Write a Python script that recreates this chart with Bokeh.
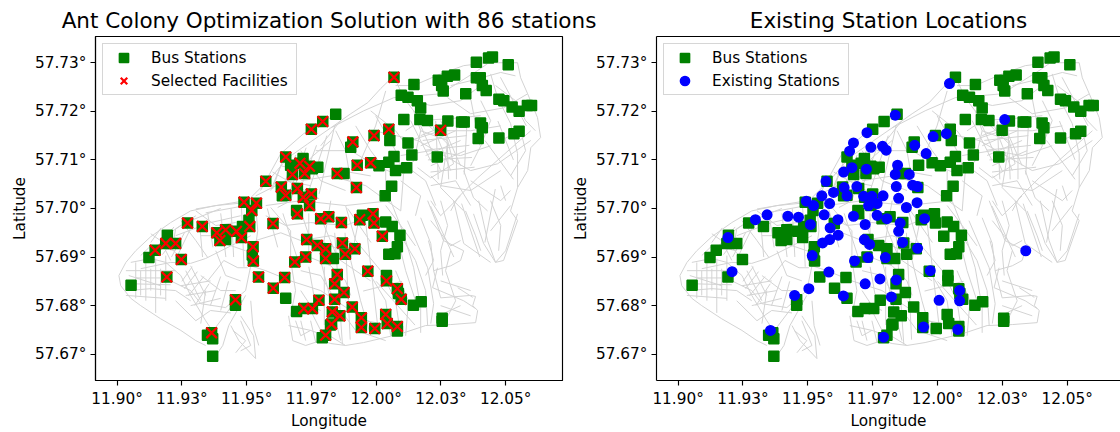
from bokeh.plotting import figure
from bokeh.embed import file_html
from bokeh.resources import INLINE
from bokeh.layouts import row
from bokeh.models import FixedTicker, Legend, LegendItem, LinearAxis

title_left = "Ant Colony Optimization Solution with 86 stations"
title_right = "Existing Station Locations"
x_ticks = [11.9, 11.925, 11.95, 11.975, 12.0, 12.025, 12.05]
x_labels = ["11.90°", "11.93°", "11.95°", "11.97°", "12.00°", "12.03°", "12.05°"]
y_ticks = [57.67, 57.68, 57.69, 57.70, 57.71, 57.72, 57.73]
y_labels = ["57.67°", "57.68°", "57.69°", "57.70°", "57.71°", "57.72°", "57.73°"]

bus_west = [(11.9272,57.6970),(11.9329,57.6963),(11.9385,57.6950),(11.9419,57.6956),(11.9397,57.6934),(11.9419,57.6936),
    (11.9461,57.6953),(11.9480,57.6940),(11.9484,57.6963),(11.9512,57.6963),(11.9509,57.6976),(11.9520,57.6996),
    (11.9602,57.6969),(11.9525,57.6921),(11.9526,57.6892),(11.9522,57.6904),(11.9194,57.6945),(11.9188,57.6928),
    (11.9226,57.6928),(11.9147,57.6914),(11.9123,57.6899),(11.9248,57.6895),(11.9192,57.6859),(11.9054,57.6842),
    (11.9546,57.6859),(11.9647,57.6858),(11.9603,57.6836),(11.9651,57.6815),(11.9457,57.6812),(11.9457,57.6801),
    (11.9365,57.6744),(11.9369,57.6732),(11.9349,57.6739),(11.9369,57.6696)]
bus_north = [(11.9750,57.7163),(11.9794,57.7179),(11.9651,57.7106),(11.9718,57.7103),(11.9706,57.7093),(11.9670,57.7089),
    (11.9743,57.7087),(11.9775,57.7085),(11.9677,57.7070),(11.9724,57.7072),(11.9754,57.7082),(11.9574,57.7056),
    (11.9634,57.7044),(11.9696,57.7041),(11.9651,57.7027),(11.9638,57.7026),(11.9719,57.7023),(11.9750,57.7030),
    (11.9490,57.7013),(11.9538,57.7011),(11.9743,57.7006),(11.9693,57.6996),(11.9844,57.7194),(11.9910,57.7137),
    (11.9902,57.7126),(11.9992,57.7150),(11.9979,57.7094),(11.9927,57.7089),(11.9850,57.7072),(11.9876,57.7072),
    (11.9924,57.7043)]
bus_east = [(12.0069,57.7270),(12.0146,57.7255),(12.0240,57.7264),(12.0275,57.7272),(12.0303,57.7275),(12.0387,57.7301),
    (12.0434,57.7310),(12.0449,57.7312),(12.0510,57.7296),(12.0387,57.7269),(12.0402,57.7269),(12.0259,57.7242),
    (12.0253,57.7253),(12.0346,57.7236),(12.0410,57.7253),(12.0425,57.7243),(12.0097,57.7233),(12.0123,57.7229),
    (12.0159,57.7222),(12.0172,57.7207),(12.0474,57.7225),(12.0493,57.7222),(12.0525,57.7209),(12.0552,57.7200),
    (12.0584,57.7212),(12.0600,57.7212),(12.0107,57.7183),(12.0169,57.7183),(12.0198,57.7181),(12.0277,57.7180),
    (12.0330,57.7178),(12.0340,57.7178),(12.0403,57.7176),(12.0410,57.7166),(12.0552,57.7159),(12.0532,57.7154),
    (12.0249,57.7161),(12.0049,57.7163),(12.0053,57.7140),(12.0123,57.7135),(12.0394,57.7144),(12.0474,57.7145),
    (12.0138,57.7110),(12.0236,57.7106),(12.0069,57.7107),(12.0049,57.7095),(12.0011,57.7088),(12.0118,57.7084),
    (12.0075,57.7078),(12.0060,57.7046),(12.0035,57.7026)]
bus_center = [(11.9696,57.6989),(11.9786,57.6979),(11.9817,57.6983),(11.9732,57.6936),(11.9773,57.6924),(11.9805,57.6917),
    (11.9805,57.6897),(11.9728,57.6900),(11.9686,57.6890),(11.9779,57.6811),(11.9754,57.6794),(11.9721,57.6794),
    (11.9693,57.6788),(11.9805,57.6739),(11.9792,57.6734),(11.9824,57.6760),(11.9866,57.6971),(11.9937,57.6977),
    (11.9947,57.6986),(11.9988,57.6989),(11.9992,57.6970),(12.0037,57.6972),(12.0062,57.6963),(12.0024,57.6943),
    (12.0092,57.6945),(12.0082,57.6921),(12.0049,57.6906),(12.0073,57.6907),(11.9870,57.6929),(11.9918,57.6917),
    (11.9881,57.6906),(11.9835,57.6897),(11.9968,57.6871),(12.0040,57.6851),(12.0040,57.6862),(12.0082,57.6835),
    (12.0097,57.6813),(12.0086,57.6825),(12.0144,57.6801),(12.0174,57.6808),(12.0255,57.6768),(12.0255,57.6774),
    (11.9850,57.6864),(11.9840,57.6845),(11.9876,57.6827),(11.9840,57.6813),(11.9908,57.6797),(11.9943,57.6775),
    (11.9943,57.6755),(11.9995,57.6753),(12.0037,57.6782),(12.0043,57.6763),(12.0082,57.6757),(12.0082,57.6748),
    (11.9860,57.6779),(11.9831,57.6787),(11.9828,57.6762)]

selected_west = [(11.9750,57.7163),(11.9794,57.7179),(11.9651,57.7106),(11.9706,57.7093),(11.9743,57.7087),(11.9677,57.7070),
    (11.9724,57.7072),(11.9574,57.7056),(11.9634,57.7044),(11.9696,57.7041),(11.9651,57.7027),(11.9719,57.7023),
    (11.9750,57.7030),(11.9490,57.7013),(11.9538,57.7011),(11.9743,57.7006),(11.9272,57.6970),(11.9329,57.6963),
    (11.9385,57.6950),(11.9419,57.6956),(11.9397,57.6934),(11.9461,57.6953),(11.9480,57.6940),(11.9512,57.6963),
    (11.9520,57.6996),(11.9602,57.6969),(11.9696,57.6989),(11.9525,57.6921),(11.9526,57.6892),(11.9188,57.6928),
    (11.9226,57.6928),(11.9147,57.6914),(11.9248,57.6895),(11.9192,57.6859),(11.9546,57.6859),(11.9647,57.6858),
    (11.9603,57.6836),(11.9457,57.6812),(11.9365,57.6744)]
selected_east = [(12.0069,57.7270),(12.0249,57.7161),(12.0049,57.7163),(11.9992,57.7150),(11.9910,57.7137),(11.9979,57.7094),
    (11.9927,57.7089),(11.9850,57.7072),(11.9924,57.7043),(11.9786,57.6979),(11.9817,57.6983),(11.9732,57.6936),
    (11.9773,57.6924),(11.9805,57.6917),(11.9805,57.6897),(11.9728,57.6900),(11.9686,57.6890),(11.9779,57.6811),
    (11.9754,57.6794),(11.9721,57.6794),(11.9805,57.6739),(11.9866,57.6971),(11.9937,57.6977),(11.9988,57.6989),
    (11.9992,57.6970),(12.0024,57.6943),(11.9870,57.6929),(11.9918,57.6917),(11.9881,57.6906),(11.9968,57.6871),
    (12.0040,57.6851),(12.0082,57.6835),(12.0097,57.6813),(11.9850,57.6864),(11.9840,57.6845),(11.9876,57.6827),
    (11.9840,57.6813),(11.9908,57.6797),(11.9943,57.6775),(11.9943,57.6755),(11.9995,57.6753),(12.0037,57.6782),
    (12.0043,57.6763),(12.0082,57.6757),(11.9860,57.6779),(11.9831,57.6787),(11.9828,57.6762)]

existing_north = [(11.9728,57.7156),(11.9676,57.7135),(11.9661,57.7118),(11.9743,57.7126),(11.9788,57.7128),(11.9802,57.7120),
    (11.9670,57.7084),(11.9638,57.7075),(11.9726,57.7081),(11.9570,57.7056),(11.9640,57.7043),(11.9689,57.7045),
    (11.9554,57.7026),(11.9599,57.7033),(11.9651,57.7026),(11.9715,57.7025),(11.9747,57.7025),(11.9790,57.7026),
    (11.9494,57.7015),(11.9522,57.7006),(11.9584,57.7010),(11.9734,57.7006),(11.9767,57.7010),(12.0046,57.7257),
    (11.9837,57.7192),(12.0259,57.7183),(11.9983,57.7148),(12.0034,57.7154),(11.9912,57.7130),(11.9956,57.7113),
    (11.9846,57.7089),(11.9837,57.7070),(11.9891,57.7070),(11.9841,57.7045),(11.9904,57.7048),(11.9923,57.7045),
    (11.9850,57.7021),(11.9921,57.7012),(11.9880,57.7002)]
existing_south = [(11.9298,57.6977),(11.9343,57.6987),(11.9423,57.6984),(11.9464,57.6982),(11.9563,57.6987),(11.9616,57.6977),
    (11.9676,57.6984),(11.9721,57.6967),(11.9510,57.6967),(11.9586,57.6960),(11.9617,57.6945),(11.9584,57.6936),
    (11.9557,57.6929),(11.9718,57.6936),(11.9738,57.6926),(11.9517,57.6903),(11.9732,57.6899),(11.9680,57.6892),
    (11.9799,57.6899),(11.9192,57.6940),(11.9208,57.6870),(11.9581,57.6869),(11.9721,57.6845),(11.9778,57.6855),
    (11.9504,57.6835),(11.9449,57.6821),(11.9637,57.6820),(11.9822,57.6818),(11.9356,57.6749),(11.9792,57.6735),
    (11.9767,57.6986),(11.9805,57.6979),(11.9856,57.6970),(11.9950,57.6979),(11.9850,57.6953),(11.9865,57.6930),
    (11.9923,57.6918),(11.9841,57.6853),(11.9972,57.6872),(12.0006,57.6811),(12.0085,57.6831),(12.0085,57.6810),
    (11.9946,57.6756),(12.0078,57.6751),(12.0340,57.6913)]

roads_west = [
    [(11.9496,57.7012),(11.9381,57.7006),(11.9284,57.6995),(11.9207,57.6971),(11.9130,57.6942),(11.9072,57.6913),(11.9034,57.6889),(11.9007,57.6862),(11.9014,57.6841),(11.9053,57.6815),(11.9091,57.6800),(11.9168,57.6773),(11.9246,57.6749),(11.9304,57.6728),(11.9342,57.6718)],
    [(11.9053,57.6889),(11.9130,57.6897),(11.9188,57.6889),(11.9246,57.6862),(11.9284,57.6821),(11.9342,57.6769),(11.9381,57.6738)],
    [(11.9045,57.6831),(11.9130,57.6835),(11.9226,57.6831),(11.9284,57.6810)],
    [(11.9091,57.6876),(11.9207,57.6889),(11.9284,57.6887),(11.9342,57.6897),(11.9439,57.6923),(11.9516,57.6944)],
    [(11.9207,57.6851),(11.9284,57.6831),(11.9323,57.6804),(11.9419,57.6796),(11.9496,57.6831),(11.9516,57.6882)],
    [(11.9381,57.6697),(11.9408,57.6718),(11.9431,57.6759),(11.9496,57.6821)],
    [(11.9439,57.6759),(11.9470,57.6728),(11.9535,57.6691),(11.9527,57.6738),(11.9477,57.6779)],
    [(11.9350,57.6851),(11.9412,57.6893),(11.9466,57.6878),(11.9504,57.6878)],
    [(11.9246,57.6975),(11.9304,57.6934),(11.9350,57.6899)],
    [(11.9130,57.6948),(11.9207,57.6919),(11.9246,57.6897)],
    [(11.9342,57.6831),(11.9323,57.6763)],
    [(11.9226,57.6944),(11.9361,57.6971),(11.9477,57.6985)],
    [(11.9265,57.6872),(11.9323,57.6810)],
    [(11.9284,57.6882),(11.9342,57.6821)],
    [(11.9072,57.6857),(11.9188,57.6857)],
    [(11.9091,57.6872),(11.9091,57.6821)],
    [(11.9130,57.6876),(11.9130,57.6831)],
    [(11.9168,57.6876),(11.9168,57.6821)],
    [(11.9053,57.6845),(11.9207,57.6843)],
    [(11.9381,57.6934),(11.9496,57.6913)],
    [(11.9284,57.6975),(11.9400,57.7000)],
    [(11.9342,57.6728),(11.9458,57.6810)],
    [(11.9304,57.6995),(11.9381,57.6965),(11.9458,57.6971)],
    [(11.9034,57.6872),(11.9226,57.6872)],
    [(11.9045,57.6862),(11.9168,57.6841)],
    [(11.9072,57.6889),(11.9072,57.6815)],
    [(11.9111,57.6889),(11.9111,57.6810)],
    [(11.9149,57.6897),(11.9149,57.6785)],
    [(11.9188,57.6903),(11.9188,57.6810)],
    [(11.9034,57.6821),(11.9188,57.6815)],
    [(11.9226,57.6913),(11.9130,57.6923),(11.9091,57.6903)],
    [(11.9168,57.6934),(11.9207,57.6893)],
    [(11.9246,57.6965),(11.9188,57.6944)],
    [(11.9304,57.6985),(11.9226,57.6958),(11.9215,57.6923)],
    [(11.9246,57.6841),(11.9361,57.6851)],
    [(11.9265,57.6821),(11.9381,57.6831)],
    [(11.9284,57.6800),(11.9400,57.6815)],
    [(11.9226,57.6810),(11.9304,57.6769)],
    [(11.9304,57.6769),(11.9361,57.6790),(11.9439,57.6785)],
    [(11.9323,57.6862),(11.9400,57.6831),(11.9458,57.6831)],
    [(11.9381,57.6913),(11.9419,57.6862),(11.9477,57.6851)],
    [(11.9323,57.6944),(11.9439,57.6944),(11.9516,57.6965)],
    [(11.9304,57.6999),(11.9496,57.7016)],
    [(11.9342,57.6991),(11.9496,57.7006)],
    [(11.9477,57.6769),(11.9516,57.6718),(11.9477,57.6707)],
    [(11.9447,57.6749),(11.9496,57.6728),(11.9458,57.6703)],
    [(11.9516,57.6810),(11.9524,57.6759),(11.9547,57.6718)],
    [(11.9130,57.6930),(11.9170,57.6960)],
    [(11.9150,57.6915),(11.9195,57.6950)],
    [(11.9175,57.6905),(11.9225,57.6940)],
    [(11.9210,57.6900),(11.9260,57.6950)],
    [(11.9235,57.6905),(11.9285,57.6960)],
    [(11.9120,57.6900),(11.9220,57.6962)],
    [(11.9250,57.6850),(11.9290,57.6880)],
    [(11.9260,57.6835),(11.9310,57.6870)],
    [(11.9275,57.6820),(11.9335,57.6860)],
    [(11.9300,57.6800),(11.9355,57.6845)],
    [(11.9360,57.6800),(11.9400,57.6860)],
    [(11.9400,57.6790),(11.9430,57.6850)],
    [(11.9320,57.6960),(11.9330,57.6900)],
    [(11.9350,57.6990),(11.9370,57.6920)],
    [(11.9400,57.6990),(11.9420,57.6900)],
    [(11.9440,57.7000),(11.9450,57.6900)],
    [(11.9480,57.7005),(11.9490,57.6880)],
]
roads_city = [
    [(11.9825,57.7166),(11.9736,57.7133),(11.9659,57.7104),(11.9593,57.7063),(11.9504,57.7016)],
    [(11.9825,57.7140),(11.9747,57.7104),(11.9697,57.7063),(11.9670,57.7016),(11.9620,57.7002)],
    [(11.9825,57.7187),(11.9720,57.7154),(11.9632,57.7113),(11.9554,57.7037)],
    [(11.9825,57.7166),(11.9902,57.7195),(11.9968,57.7218),(12.0018,57.7247),(12.0068,57.7273)],
    [(11.9767,57.7119),(11.9902,57.7119),(11.9998,57.7088),(12.0095,57.7067)],
    [(11.9709,57.7057),(11.9825,57.7067),(11.9960,57.7047),(12.0095,57.6995)],
    [(11.9574,57.7006),(11.9709,57.7016),(11.9882,57.7006),(12.0056,57.7016)],
    [(11.9593,57.7002),(11.9670,57.6954),(11.9670,57.6893),(11.9689,57.6831),(11.9670,57.6779)],
    [(11.9825,57.7016),(11.9786,57.6893),(11.9825,57.6810),(11.9863,57.6728)],
    [(11.9940,57.6995),(11.9902,57.6893),(11.9940,57.6810),(11.9979,57.6738)],
    [(11.9882,57.7006),(11.9921,57.6934),(12.0018,57.6872),(12.0075,57.6810),(12.0095,57.6738)],
    [(11.9709,57.6995),(11.9747,57.6934),(11.9863,57.6893),(11.9979,57.6851)],
    [(11.9516,57.6882),(11.9574,57.6872),(11.9670,57.6851),(11.9786,57.6831),(11.9902,57.6790),(11.9998,57.6759)],
    [(11.9535,57.7006),(11.9543,57.6954),(11.9524,57.6882)],
    [(11.9747,57.6790),(11.9786,57.6749),(11.9882,57.6718)],
    [(12.0075,57.6965),(12.0095,57.6913),(12.0114,57.6872),(12.0152,57.6810)],
    [(11.9662,57.6779),(11.9678,57.6728),(11.9728,57.6718),(11.9786,57.6728),(11.9825,57.6722)],
    [(11.9689,57.6769),(11.9709,57.6738),(11.9747,57.6749)],
    [(11.9662,57.6759),(11.9747,57.6749),(11.9805,57.6738)],
    [(11.9709,57.6769),(11.9728,57.6728)],
    [(11.9747,57.6769),(11.9767,57.6724)],
    [(11.9535,57.6934),(11.9632,57.6950),(11.9709,57.6934),(11.9825,57.6944),(11.9940,57.6923)],
    [(11.9574,57.6985),(11.9651,57.6965),(11.9747,57.6971),(11.9882,57.6965),(11.9979,57.6985)],
    [(11.9728,57.6903),(11.9825,57.6882),(11.9882,57.6851),(11.9902,57.6821)],
    [(11.9709,57.6872),(11.9786,57.6862),(11.9844,57.6810)],
    [(11.9786,57.6934),(11.9863,57.6913)],
    [(11.9882,57.6810),(11.9960,57.6769),(12.0056,57.6759)],
    [(11.9863,57.6790),(11.9921,57.6749),(12.0037,57.6728)],
    [(11.9979,57.6862),(12.0037,57.6810),(12.0056,57.6738)],
    [(11.9709,57.6831),(11.9747,57.6800),(11.9786,57.6790)],
    [(12.0075,57.6872),(12.0125,57.6810),(12.0114,57.6738)],
    [(12.0095,57.6944),(12.0152,57.6893),(12.0191,57.6831),(12.0199,57.6759)],
    [(12.0037,57.7006),(12.0095,57.6965),(12.0152,57.6923)],
    [(11.9535,57.7026),(11.9651,57.7057),(11.9747,57.7047)],
    [(11.9593,57.7037),(11.9632,57.7088),(11.9709,57.7078),(11.9786,57.7098)],
    [(11.9709,57.7119),(11.9786,57.7057),(11.9882,57.7037)],
    [(11.9844,57.7160),(11.9882,57.7119),(11.9902,57.7057)],
    [(11.9921,57.7170),(11.9979,57.7119),(12.0037,57.7078),(12.0037,57.7026)],
    [(11.9998,57.7191),(12.0075,57.7119),(12.0095,57.7088)],
    [(11.9863,57.7078),(11.9979,57.7067)],
    [(12.0037,57.7242),(11.9998,57.7170),(11.9940,57.7098)],
    [(11.9786,57.7129),(11.9863,57.7181)],
    [(11.9600,57.7040),(11.9640,57.7100)],
    [(11.9620,57.7020),(11.9690,57.7110)],
    [(11.9660,57.7025),(11.9730,57.7125)],
    [(11.9700,57.7030),(11.9770,57.7130)],
    [(11.9730,57.7020),(11.9810,57.7150)],
    [(11.9780,57.7030),(11.9840,57.7170)],
    [(11.9600,57.7075),(11.9780,57.7020)],
    [(11.9840,57.6950),(11.9870,57.6720)],
    [(11.9880,57.6950),(11.9900,57.6730)],
    [(11.9960,57.6970),(12.0010,57.6740)],
    [(11.9740,57.6880),(11.9770,57.6790)],
    [(11.9800,57.6880),(11.9800,57.6760)],
    [(12.0000,57.6850),(12.0150,57.6760)],
    [(11.9950,57.6830),(12.0100,57.6850)],
    [(11.9580,57.7000),(11.9620,57.6920)],
    [(11.9640,57.6990),(11.9700,57.6890)],
    [(11.9740,57.6990),(11.9740,57.6910)],
    [(11.9780,57.6990),(11.9850,57.6900)],
    [(11.9890,57.7000),(11.9980,57.6930)],
]
roads_east = [
    [(11.9825,57.6722),(11.9882,57.6718),(11.9952,57.6724),(12.0095,57.6742),(12.0191,57.6759),(12.0288,57.6761),(12.0384,57.6765),(12.0392,57.6790),(12.0373,57.6800),(12.0384,57.6819),(12.0365,57.6821),(12.0249,57.6816),(12.0222,57.6872),(12.0288,57.6882),(12.0326,57.6893),(12.0338,57.6913)],
    [(12.0121,57.6975),(12.0199,57.6878),(12.0222,57.6804),(12.0211,57.6763)],
    [(12.0172,57.6981),(12.0211,57.6928),(12.0222,57.6872)],
    [(12.0199,57.7016),(12.0260,57.6934),(12.0338,57.6913)],
    [(12.0299,57.7016),(12.0338,57.6928),(12.0442,57.6889)],
    [(12.0396,57.7016),(12.0430,57.6934),(12.0461,57.6889)],
    [(12.0546,57.6989),(12.0500,57.6913),(12.0461,57.6889)],
    [(12.0056,57.7016),(12.0106,57.6948),(12.0145,57.6878),(12.0172,57.6796),(12.0172,57.6744)],
    [(12.0237,57.6878),(12.0218,57.6837),(12.0338,57.6810),(12.0384,57.6794)],
    [(12.0315,57.6837),(12.0373,57.6817)],
    [(12.0249,57.6851),(12.0365,57.6831)],
    [(12.0075,57.7253),(12.0145,57.7253),(12.0249,57.7277),(12.0338,57.7294),(12.0430,57.7300),(12.0546,57.7300),(12.0558,57.7269),(12.0585,57.7236),(12.0623,57.7187),(12.0635,57.7146),(12.0597,57.7125),(12.0585,57.7078),(12.0546,57.7043),(12.0519,57.6995),(12.0546,57.6975),(12.0492,57.6893),(12.0461,57.6889),(12.0415,57.6928),(12.0376,57.6989)],
    [(12.0145,57.7201),(12.0276,57.7133),(12.0249,57.7043),(12.0338,57.6995)],
    [(11.9991,57.7160),(12.0160,57.7140),(12.0249,57.7113),(12.0365,57.7078),(12.0469,57.7092),(12.0597,57.7140)],
    [(11.9825,57.7166),(11.9952,57.7201),(12.0068,57.7228),(12.0249,57.7236),(12.0392,57.7284),(12.0430,57.7298)],
    [(12.0068,57.7273),(12.0106,57.7228),(12.0145,57.7201),(12.0172,57.7160),(12.0145,57.7098),(12.0106,57.7071),(12.0095,57.6995)],
    [(12.0276,57.7228),(12.0365,57.7195),(12.0492,57.7207),(12.0585,57.7236)],
    [(12.0442,57.7277),(12.0469,57.7228),(12.0519,57.7175),(12.0546,57.7113),(12.0546,57.7043)],
    [(12.0338,57.7078),(12.0376,57.7022),(12.0430,57.6995)],
    [(12.0597,57.7160),(12.0392,57.7063),(12.0315,57.7022),(12.0288,57.6995)],
    [(12.0172,57.7160),(12.0276,57.7140),(12.0299,57.7092),(12.0211,57.7063),(12.0160,57.7084)],
    [(12.0172,57.7150),(12.0268,57.7170)],
    [(12.0172,57.7129),(12.0307,57.7160)],
    [(12.0191,57.7109),(12.0326,57.7140)],
    [(12.0211,57.7088),(12.0345,57.7119)],
    [(12.0211,57.7181),(12.0288,57.7078)],
    [(12.0172,57.7170),(12.0249,57.7078)],
    [(12.0249,57.7181),(12.0326,57.7088)],
    [(12.0133,57.7181),(12.0211,57.7098)],
    [(11.9979,57.7201),(12.0075,57.7160),(12.0133,57.7119)],
    [(12.0365,57.7057),(12.0481,57.7016),(12.0519,57.7037)],
    [(12.0326,57.7026),(12.0249,57.6985),(12.0211,57.7016)],
    [(12.0211,57.6975),(12.0288,57.6923),(12.0326,57.6934)],
    [(12.0249,57.7016),(12.0276,57.6965),(12.0249,57.6913),(12.0257,57.6862)],
    [(12.0345,57.6995),(12.0384,57.6944),(12.0404,57.6913)],
    [(12.0442,57.7016),(12.0481,57.6965),(12.0473,57.6913)],
    [(12.0519,57.7006),(12.0442,57.6954)],
    [(12.0288,57.6913),(12.0268,57.6872),(12.0307,57.6810),(12.0268,57.6769)],
    [(12.0249,57.6800),(12.0365,57.6779)],
    [(12.0241,57.6779),(12.0326,57.6800)],
    [(12.0191,57.6862),(12.0222,57.6893),(12.0202,57.6934)],
    [(12.0114,57.7160),(12.0172,57.7181),(12.0288,57.7185),(12.0404,57.7191)],
    [(12.0133,57.7140),(12.0249,57.7160),(12.0365,57.7160),(12.0481,57.7170)],
    [(12.0095,57.7109),(12.0211,57.7119),(12.0326,57.7109),(12.0442,57.7129)],
    [(12.0211,57.7067),(12.0249,57.7047),(12.0365,57.7037),(12.0481,57.7078)],
    [(12.0114,57.7088),(12.0191,57.7057),(12.0230,57.7006)],
    [(12.0095,57.7057),(12.0172,57.7026),(12.0152,57.6985)],
    [(12.0133,57.7222),(12.0211,57.7212),(12.0326,57.7222),(12.0404,57.7253)],
    [(12.0288,57.7253),(12.0365,57.7263),(12.0481,57.7280),(12.0538,57.7273)],
    [(12.0461,57.7253),(12.0538,57.7222),(12.0577,57.7181),(12.0615,57.7160)],
    [(12.0404,57.7222),(12.0442,57.7181),(12.0404,57.7129),(12.0365,57.7088)],
    [(12.0481,57.7140),(12.0558,57.7160),(12.0577,57.7119),(12.0519,57.7067)],
    [(12.0481,57.7047),(12.0500,57.7016)],
    [(12.0211,57.7047),(12.0307,57.7057),(12.0365,57.7006)],
    [(12.0180,57.7140),(12.0350,57.7150)],
    [(12.0190,57.7120),(12.0360,57.7130)],
    [(12.0200,57.7100),(12.0370,57.7105)],
    [(12.0210,57.7075),(12.0380,57.7085)],
    [(12.0230,57.7180),(12.0240,57.7060)],
    [(12.0270,57.7190),(12.0280,57.7060)],
    [(12.0310,57.7180),(12.0310,57.7060)],
    [(12.0350,57.7170),(12.0340,57.7070)],
    [(12.0330,57.7010),(12.0400,57.6900)],
    [(12.0210,57.7005),(12.0300,57.6900)],
    [(12.0460,57.7040),(12.0420,57.6930)],
    [(12.0470,57.7180),(12.0530,57.7100)],
    [(12.0420,57.7140),(12.0530,57.7060)],
    [(12.0360,57.7240),(12.0400,57.7130)],
    [(12.0480,57.7270),(12.0580,57.7170)],
]

FONT = "DejaVu Sans"
TICK_PX = "15.3px"
bus_pts = bus_west + bus_north + bus_east + bus_center
sel_pts = selected_west + selected_east
ext_pts = existing_north + existing_south
roads = roads_west + roads_city + roads_east


def make_fig(title, width, x_end, border_left, border_right, offset):
    p = figure(width=width, height=432, x_range=(11.89167, x_end), y_range=(57.66459, 57.7354),
               output_backend="svg", toolbar_location=None,
               min_border_left=border_left, min_border_right=border_right,
               min_border_top=36, min_border_bottom=52,
               x_axis_label="Longitude", y_axis_label="Latitude")
    p.grid.visible = False
    p.title.text = title
    p.title.align = "center"
    p.title.offset = offset
    p.title.text_font = FONT
    p.title.text_font_size = "21.5px"
    p.title.text_font_style = "normal"
    p.title.text_color = "black"
    p.title.standoff = 8
    for ax, ticks, labels in ((p.xaxis[0], x_ticks, x_labels), (p.yaxis[0], y_ticks, y_labels)):
        ax.ticker = FixedTicker(ticks=ticks)
        ax.major_label_overrides = dict(zip(ticks, labels))
        ax.major_label_text_font = FONT
        ax.major_label_text_font_size = TICK_PX
        ax.major_label_text_color = "black"
        ax.axis_label_text_font = FONT
        ax.axis_label_text_font_size = TICK_PX
        ax.axis_label_text_font_style = "normal"
        ax.axis_label_text_color = "black"
        ax.axis_line_width = 1.15
        ax.major_tick_line_width = 1.15
        ax.major_tick_in = 0
        ax.major_tick_out = 5
        ax.minor_tick_line_color = None
        ax.major_label_standoff = 4
    p.xaxis[0].axis_label_standoff = 1
    p.yaxis[0].axis_label_standoff = 3
    p.multi_line([[c[0] for c in r] for r in roads], [[c[1] for c in r] for r in roads],
                 line_color="#d3d3d3", line_width=1.0)
    return p


def add_legend(p, items, label_width):
    legend = Legend(items=items, location="top_left", margin=7, padding=2, spacing=0,
                    glyph_height=23, glyph_width=37, label_standoff=9, label_height=17,
                    label_width=label_width, label_text_font=FONT, label_text_font_size=TICK_PX,
                    label_text_color="black", border_line_color="#cccccc", border_line_alpha=0.8,
                    border_line_width=1.15, background_fill_alpha=0.8)
    p.add_layout(legend)


left = make_fig(title_left, 608, 12.07195, 95, 46, -1)
left.outline_line_color = "black"
left.outline_line_width = 1.15
b1 = left.scatter([c[0] for c in bus_pts], [c[1] for c in bus_pts], marker="square", size=10,
                  fill_color="green", line_color="green", line_width=1.5)
s1 = left.scatter([c[0] for c in sel_pts], [c[1] for c in sel_pts], marker="x", size=15,
                  line_color="red", line_width=2.2)
add_legend(left, [LegendItem(label="Bus Stations", renderers=[b1]),
                  LegendItem(label="Selected Facilities", renderers=[s1])], 143)

right = make_fig(title_right, 552, 12.07052, 88, 0, 3)
right.outline_line_color = None
top = LinearAxis(ticker=FixedTicker(ticks=[]), axis_line_color="black", axis_line_width=1.15,
                 major_tick_line_color=None, minor_tick_line_color=None, major_label_text_font_size="0px")
right.add_layout(top, "above")
right.border_fill_color = None
b2 = right.scatter([c[0] for c in bus_pts], [c[1] for c in bus_pts], marker="square", size=10,
                   fill_color="green", line_color="green", line_width=1.5)
e2 = right.scatter([c[0] for c in ext_pts], [c[1] for c in ext_pts], marker="circle", size=9.5,
                   fill_color="blue", line_color="blue", line_width=1.5)
add_legend(right, [LegendItem(label="Bus Stations", renderers=[b2]),
                   LegendItem(label="Existing Stations", renderers=[e2])], 134)
right.margin = (0, 0, 0, -40)

layout = row(left, right)
open("out.html", "w").write(file_html(layout, INLINE))
